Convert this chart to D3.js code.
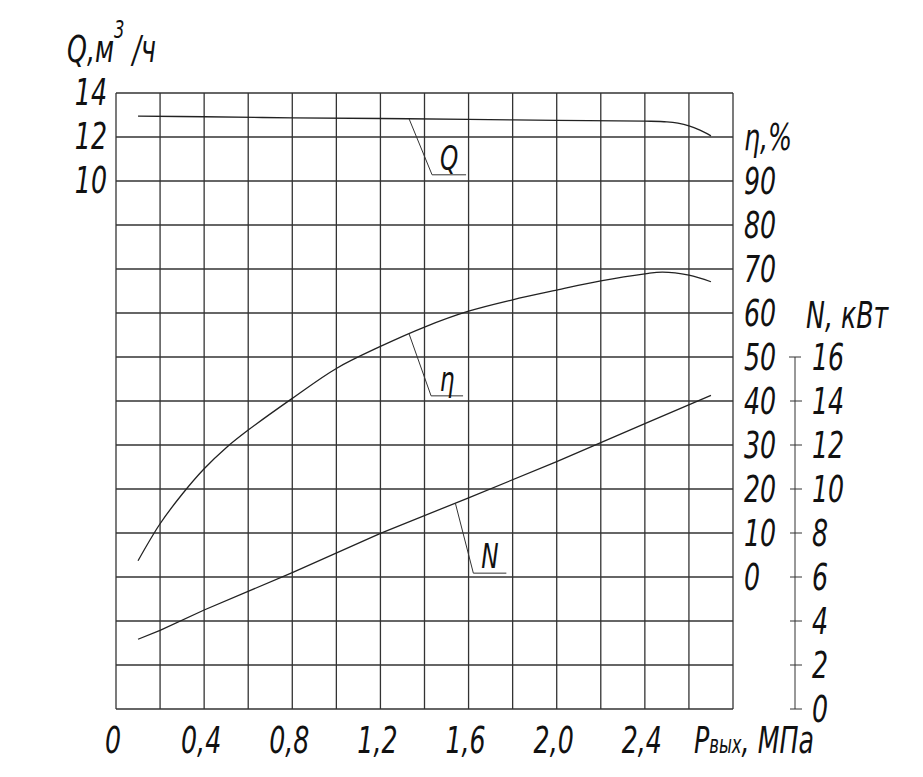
<!DOCTYPE html>
<html>
<head>
<meta charset="utf-8">
<script src="https://cdn.jsdelivr.net/npm/d3@7"></script>
<style>
    body { margin: 0; background: #fff; }
    .lbl { font-family: "Liberation Sans Narrow", "DejaVu Sans Condensed", sans-serif; font-style: italic; fill: #111; }
    .grid line { stroke: #333; stroke-width: 1.3; }
    .curve { fill: none; stroke: #222; stroke-width: 1.3; }
    .leader { fill: none; stroke: #333; stroke-width: 1; }
</style>
</head>
<body>
<svg id="chart" width="923" height="777"></svg>
<script>
// Q-H характеристика насоса: Q, eta, N от давления на выходе
const qP = [0.1, 0.4, 0.8, 1.2, 1.6, 2.0, 2.4, 2.5, 2.55, 2.6, 2.65, 2.7];
const qVal = [12.95, 12.92, 12.87, 12.84, 12.80, 12.76, 12.72, 12.69, 12.63, 12.51, 12.31, 12.05];

const etaP = [0.1, 0.2, 0.3, 0.4, 0.5, 0.6, 0.8, 1.0, 1.2, 1.4, 1.6, 1.8, 2.0, 2.2, 2.4, 2.48, 2.6, 2.7];
const etaVal = [3.7, 12.1, 18.8, 24.6, 29.4, 33.4, 40.6, 47.4, 52.4, 56.8, 60.4, 63.0, 65.2, 67.3, 68.9, 69.3, 68.6, 67.1];

const nP = [0.1, 0.2, 0.4, 0.8, 1.2, 1.6, 2.0, 2.4, 2.7];
const nVal = [3.17, 3.57, 4.5, 6.2, 7.98, 9.6, 11.24, 12.97, 14.26];

const xTicks = [0, 0.4, 0.8, 1.2, 1.6, 2.0, 2.4];
const qTicks = [10, 12, 14];
const etaTicks = [0, 10, 20, 30, 40, 50, 60, 70, 80, 90];
const nTicks = [0, 2, 4, 6, 8, 10, 12, 14, 16];

// где стоят выноски (давление на кривой)
const leaderAt = { Q: 1.33, eta: 1.33, N: 1.54 };

var svg = d3.select("#chart");

var x = d3.scaleLinear().domain([0, 2.8]).range([116, 733]);
var yQ = d3.scaleLinear().domain([-14, 14]).range([709, 93]);
var yEta = d3.scaleLinear().domain([-30, 110]).range([709, 93]);
var yN = d3.scaleLinear().domain([0, 28]).range([709, 93]);

function fmt(v) {
    return String(v).replace(".", ",");
}

function label(str, px, py, anchor, size) {
    return svg.append("text")
        .attr("class", "lbl")
        .attr("transform", "translate(" + px + "," + py + ") scale(0.76,1)")
        .attr("text-anchor", anchor)
        .style("font-size", size + "px")
        .text(str);
}

// сетка
var grid = svg.append("g").attr("class", "grid");
grid.selectAll(".v")
    .data(d3.range(0, 15).map(i => i * 0.2))
    .enter().append("line")
    .attr("x1", d => x(d)).attr("x2", d => x(d))
    .attr("y1", yEta(110)).attr("y2", yEta(-30));
grid.selectAll(".h")
    .data(d3.range(-30, 111, 10))
    .enter().append("line")
    .attr("x1", x(0)).attr("x2", x(2.8))
    .attr("y1", d => yEta(d)).attr("y2", d => yEta(d));

// кривые
function drawCurve(xs, ys, yScale, curve) {
    let pts = xs.map((p, i) => [x(p), yScale(ys[i])]);
    svg.append("path")
        .attr("class", "curve")
        .attr("d", d3.line().curve(curve)(pts));
}
drawCurve(qP, qVal, yQ, d3.curveCatmullRom);
drawCurve(etaP, etaVal, yEta, d3.curveCatmullRom);
drawCurve(nP, nVal, yN, d3.curveLinear);

// выноски
function interp(xs, ys, p) {
    return d3.scaleLinear().domain(xs).range(ys)(p);
}
function leader(name, xs, ys, yScale, p, dx, dy, len) {
    let sx = x(p), sy = yScale(interp(xs, ys, p));
    svg.append("path")
        .attr("class", "leader")
        .attr("d", "M" + sx + "," + sy + "L" + (sx + dx) + "," + (sy + dy) + "l" + len + ",0");
    label(name, sx + dx + len / 2, sy + dy - 5, "middle", 34);
}
leader("Q", qP, qVal, yQ, leaderAt.Q, 23, 56, 34);
leader("η", etaP, etaVal, yEta, leaderAt.eta, 22, 62, 32);
leader("N", nP, nVal, yN, leaderAt.N, 18, 70, 33);

// ось Q
for (let v of qTicks) {
    label(String(v), 107, yQ(v) + 12, "end", 37);
}
var qTitle = label("Q,м", 67, 62, "start", 37);
qTitle.append("tspan").attr("dy", -24).style("font-size", "24px").text("3");
qTitle.append("tspan").attr("dy", 24).text(" /ч");

// ось eta
for (let v of etaTicks) {
    label(String(v), 744, yEta(v) + 13, "start", 37);
}
label("η,%", 744, 150, "start", 37);

// ось N
var nAxisX = 795;
svg.append("line").attr("class", "leader")
    .attr("x1", nAxisX).attr("x2", nAxisX)
    .attr("y1", yN(16)).attr("y2", yN(0));
svg.selectAll(".ntick")
    .data(nTicks)
    .enter().append("line")
    .attr("class", "leader")
    .attr("x1", d => d == 16 ? nAxisX - 6 : nAxisX - 5)
    .attr("x2", d => d == 16 ? nAxisX + 6 : nAxisX + 7)
    .attr("y1", d => yN(d)).attr("y2", d => yN(d));
for (let v of nTicks) {
    label(String(v), 812, yN(v) + 13, "start", 37);
}
label("N, кВт", 806, 328, "start", 37);

// ось P
for (let v of xTicks) {
    label(v == 0 ? "0" : fmt(v.toFixed(1)), x(v) - 3, 753, "middle", 37);
}
var pTitle = label("P", 694, 753, "start", 37);
pTitle.append("tspan").style("font-size", "24px").text("вых");
pTitle.append("tspan").text(", МПа");
</script>
</body>
</html>
